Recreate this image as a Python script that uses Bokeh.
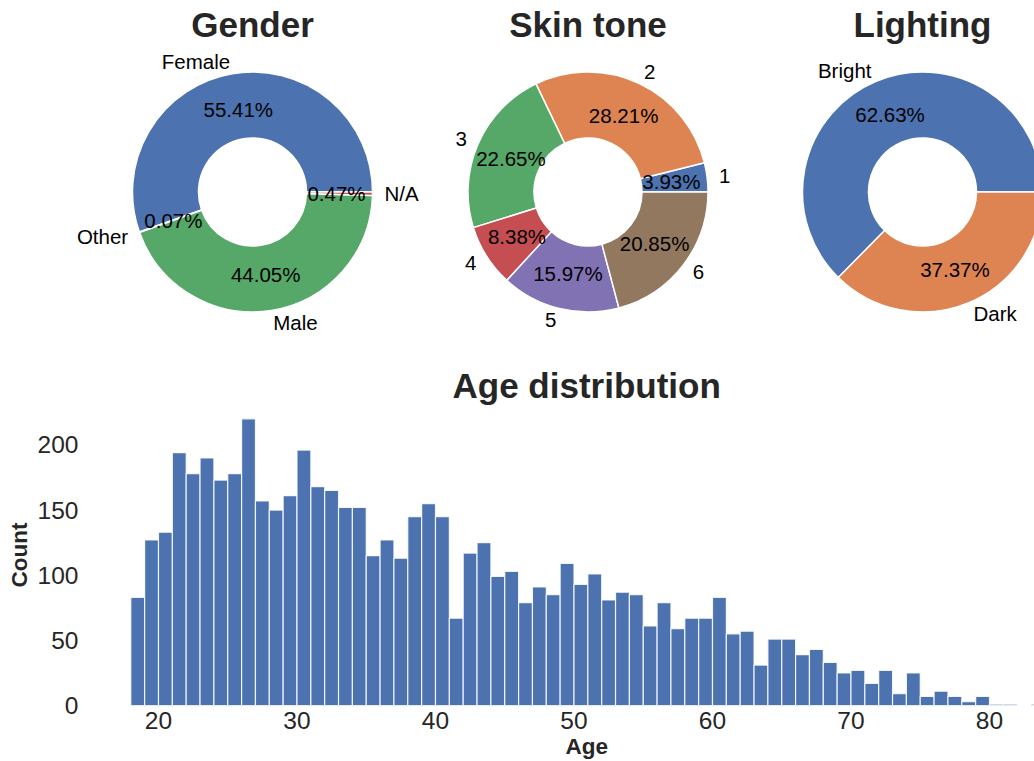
import math
from bokeh.plotting import figure
from bokeh.layouts import column, row
from bokeh.models import ColumnDataSource, FixedTicker, Label, Title
from bokeh.core.properties import value
from bokeh.embed import file_html
from bokeh.resources import INLINE

# ---------------- data ----------------
gender_labels = ["Female", "Other", "Male", "N/A"]
gender_pcts = [55.41, 0.07, 44.05, 0.47]

skin_labels = ["1", "2", "3", "4", "5", "6"]
skin_pcts = [3.93, 28.21, 22.65, 8.38, 15.97, 20.85]

light_labels = ["Bright", "Dark"]
light_pcts = [62.63, 37.37]

age_bins = list(range(18, 84))
age_counts = [83, 127, 133, 194, 178, 190, 173, 178, 220, 157,
              150, 161, 196, 168, 165, 152, 152, 115, 127, 113,
              145, 155, 145, 67, 117, 125, 99, 103, 79, 91,
              85, 109, 93, 101, 81, 87, 85, 61, 79, 59,
              67, 67, 83, 55, 57, 31, 51, 51, 39, 43,
              33, 25, 27, 17, 27, 9, 25, 7, 11, 7,
              3, 7, 1, 1, 0, 1]
age_ticks = [20, 30, 40, 50, 60, 70, 80]
count_ticks = [0, 50, 100, 150, 200]

# ---------------- style ----------------
DEEP = ["#4C72B0", "#DD8452", "#55A868", "#C44E52", "#8172B3", "#937860"]
FONT = "Liberation Sans"
TXT = "#262626"
K = 120.0            # pixels per unit radius
TOP_H = 345
CY = 191.5           # donut centre, px from top of the row
PIE_FS = "20.5px"
TITLE_FS = "35px"


def donut(title, labels, pcts, width, cx):
    p = figure(width=width, height=TOP_H,
               x_range=(-cx / K, (width - cx) / K),
               y_range=(-(TOP_H - CY) / K, CY / K),
               x_axis_type=None, y_axis_type=None,
               toolbar_location=None, output_backend="svg",
               min_border=0, outline_line_color=None)
    p.grid.visible = False
    total = sum(pcts)
    starts, ends, acc = [], [], 0.0
    for v in pcts:
        starts.append(2 * math.pi * acc / total)
        acc += v
        ends.append(2 * math.pi * acc / total)
    src = ColumnDataSource(dict(start=starts, end=ends, color=DEEP[:len(pcts)]))
    p.annular_wedge(x=0, y=0, inner_radius=0.45, outer_radius=1.0,
                    start_angle="start", end_angle="end",
                    fill_color="color", line_color="white", line_width=1.5,
                    source=src)
    mids = [(a + b) / 2 for a, b in zip(starts, ends)]
    lx = [1.1 * math.cos(m) for m in mids]
    ly = [1.1 * math.sin(m) for m in mids]
    left = dict(x=[], y=[], t=[])
    right = dict(x=[], y=[], t=[])
    for x, y, t in zip(lx, ly, labels):
        d = left if x > 0 else right
        d["x"].append(x); d["y"].append(y); d["t"].append(t)
    for d, al in ((left, "left"), (right, "right")):
        p.text(x="x", y="y", text="t", source=ColumnDataSource(d),
               text_align=al, text_baseline="middle",
               text_font=value(FONT), text_font_size=PIE_FS, text_color="black")
    pct_src = ColumnDataSource(dict(
        x=[0.7 * math.cos(m) for m in mids],
        y=[0.7 * math.sin(m) for m in mids],
        t=["%.2f%%" % v for v in pcts]))
    p.text(x="x", y="y", text="t", source=pct_src,
           text_align="center", text_baseline="middle",
           text_font=value(FONT), text_font_size=PIE_FS, text_color="black")
    p.add_layout(Label(x=0, y=(CY - 24.0) / K, text=title,
                       text_align="center", text_baseline="middle",
                       text_font=FONT, text_font_size=TITLE_FS,
                       text_font_style="bold", text_color=TXT))
    return p


f1 = donut("Gender", gender_labels, gender_pcts, 420, 252.0)
f2 = donut("Skin tone", skin_labels, skin_pcts, 335, 587.5 - 420)
f3 = donut("Lighting", light_labels, light_pcts, 279, 922.0 - 755)

# ---------------- histogram ----------------
HW, HH = 1034, 761 - TOP_H
FL = 85
px_year = 13.85
x0 = 20 - (158 - FL) / px_year
x1 = x0 + (HW - FL) / px_year

h = figure(width=HW, height=HH, x_range=(x0, x1), y_range=(0, 231),
           toolbar_location=None, output_backend="svg",
           min_border_left=FL, min_border_right=0,
           min_border_top=404 - TOP_H, min_border_bottom=761 - 705,
           outline_line_color=None)
h.quad(left=age_bins, right=[b + 1 for b in age_bins], bottom=0, top=age_counts,
       fill_color=DEEP[0], line_color="white", line_width=1.2, line_alpha=0.85)

h.xgrid.visible = False
h.ygrid.visible = False
h.xaxis.ticker = FixedTicker(ticks=age_ticks)
h.yaxis.ticker = FixedTicker(ticks=count_ticks)
h.yaxis.axis_label = "Count"
for ax in (h.xaxis, h.yaxis):
    ax.axis_line_color = None
    ax.major_tick_line_color = None
    ax.minor_tick_line_color = None
    ax.major_tick_out = 0
    ax.major_tick_in = 0
    ax.major_label_text_font = FONT
    ax.major_label_text_font_size = "24.5px"
    ax.major_label_text_color = TXT
    ax.axis_label_text_font = FONT
    ax.axis_label_text_font_size = "22.5px"
    ax.axis_label_text_font_style = "bold"
    ax.axis_label_text_color = TXT
h.xaxis.major_label_standoff = 6
h.yaxis.major_label_standoff = 7
h.yaxis.axis_label_standoff = 3

# x-axis label centred on the full (uncropped) axes width, as in the original
h.add_layout(Title(text="Age", align="left", offset=480, standoff=0,
                   text_font=FONT, text_font_size="22.5px",
                   text_font_style="bold", text_color=TXT), "below")

h.title.text = "Age distribution"
h.title.align = "left"
h.title.offset = 367
h.title.standoff = 0
h.title.text_font = FONT
h.title.text_font_size = TITLE_FS
h.title.text_font_style = "bold"
h.title.text_color = TXT

layout = column(row(f1, f2, f3), h)
open("out.html", "w").write(file_html(layout, INLINE))
